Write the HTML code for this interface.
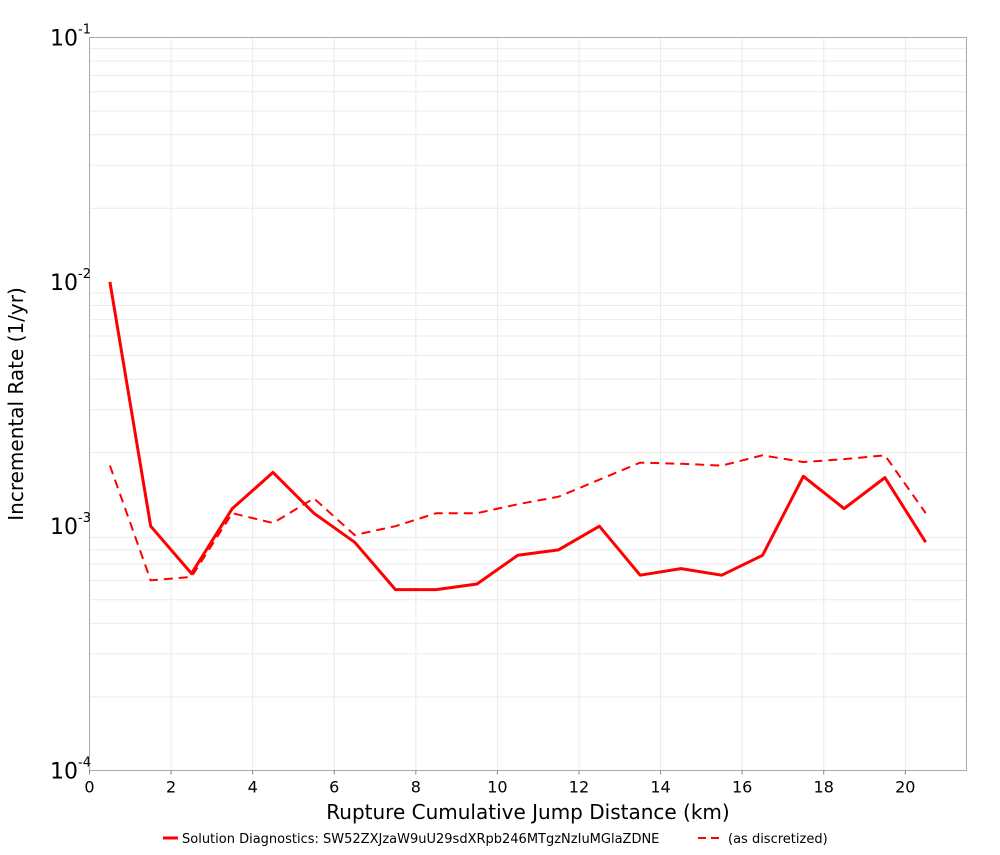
<!DOCTYPE html>
<html><head><meta charset="utf-8"><style>
body{margin:0;background:#fff;}
svg text{font-family:"DejaVu Sans","Liberation Sans",sans-serif;}
</style></head><body>
<svg id="chart" width="1000" height="850" xmlns="http://www.w3.org/2000/svg">
<g id="grid"></g>
<rect x="89.5" y="37.5" width="877" height="733" fill="none" stroke="#aaa"/>
<g id="series"></g>
<g id="axes"></g>
<text x="528" y="819" font-size="20" text-anchor="middle">Rupture Cumulative Jump Distance (km)</text>
<text transform="translate(23,404) rotate(-90)" font-size="20" text-anchor="middle">Incremental Rate (1/yr)</text>
<g>
<line x1="163" y1="838" x2="178" y2="838" stroke="#f00" stroke-width="3"/>
<text x="182" y="843" font-size="13">Solution Diagnostics: SW52ZXJzaW9uU29sdXRpb246MTgzNzIuMGlaZDNE</text>
<line x1="698" y1="838" x2="722" y2="838" stroke="#f00" stroke-width="2" stroke-dasharray="8,5"/>
<text x="728" y="843" font-size="13">(as discretized)</text>
</g>
</svg>
<script>
const xValues=[0.5,1.5,2.5,3.5,4.5,5.5,6.5,7.5,8.5,9.5,10.5,11.5,12.5,13.5,14.5,15.5,16.5,17.5,18.5,19.5,20.5];
const solidRates=[1.0e-2,1.0e-3,6.4e-4,1.18e-3,1.66e-3,1.13e-3,8.6e-4,5.5e-4,5.5e-4,5.8e-4,7.6e-4,8.0e-4,1.0e-3,6.3e-4,6.7e-4,6.3e-4,7.6e-4,1.6e-3,1.18e-3,1.58e-3,8.6e-4];
const dashedRates=[1.77e-3,6.0e-4,6.2e-4,1.13e-3,1.03e-3,1.3e-3,9.2e-4,1.0e-3,1.13e-3,1.13e-3,1.23e-3,1.32e-3,1.55e-3,1.82e-3,1.8e-3,1.77e-3,1.95e-3,1.83e-3,1.88e-3,1.95e-3,1.13e-3];
const xTicks=[0,2,4,6,8,10,12,14,16,18,20];
const yDecades=[-4,-3,-2,-1];
const NS="http://www.w3.org/2000/svg";
const L=89.5,R=966.5,T=37.5,B=770.5;
function xs(v){return L+v*(R-L)/21.5;}
function ys(v){return T+(-1-Math.log10(v))*(B-T)/3;}
const grid=document.getElementById('grid'),axes=document.getElementById('axes'),ser=document.getElementById('series');
function mk(p,tag,at){const e=document.createElementNS(NS,tag);for(const k in at)e.setAttribute(k,at[k]);p.appendChild(e);return e;}
for(const t of xTicks){
 const g=mk(grid,'line',{x1:xs(t),x2:xs(t),y1:T,y2:B,stroke:'#ebebeb'});
 
 
 const tk=mk(axes,'line',{x1:xs(t),x2:xs(t),y1:B,y2:B+4,stroke:'#888'});
 
 
 const tx=mk(axes,'text',{x:xs(t),y:B+22,'font-size':16,'text-anchor':'middle'});
 tx.textContent=t;
 
 
}
for(const d of yDecades){
 if(d<-1){for(let m=2;m<=9;m++){
  const y=ys(m*Math.pow(10,d));
  const g=mk(grid,'line',{x1:L,x2:R,y1:y,y2:y,stroke:'#ebebeb'});
  
  
 }}
 const y=ys(Math.pow(10,d));
 const tx=mk(axes,'text',{x:50,y:y+8,'font-size':22});
 tx.textContent='10';
 
 
 const sp=mk(tx,'tspan',{dy:-12,'font-size':13});
 sp.textContent=String(d);
}
function pts(a){return xValues.map((x,i)=>xs(x)+','+ys(a[i])).join(' ');}
const s=mk(ser,'polyline',{points:pts(solidRates),fill:'none',stroke:'#f00','stroke-width':3,'stroke-linejoin':'round'});


const d2=mk(ser,'polyline',{points:pts(dashedRates),fill:'none',stroke:'#f00','stroke-width':2,'stroke-dasharray':'9,6'});


</script>
</body></html>
